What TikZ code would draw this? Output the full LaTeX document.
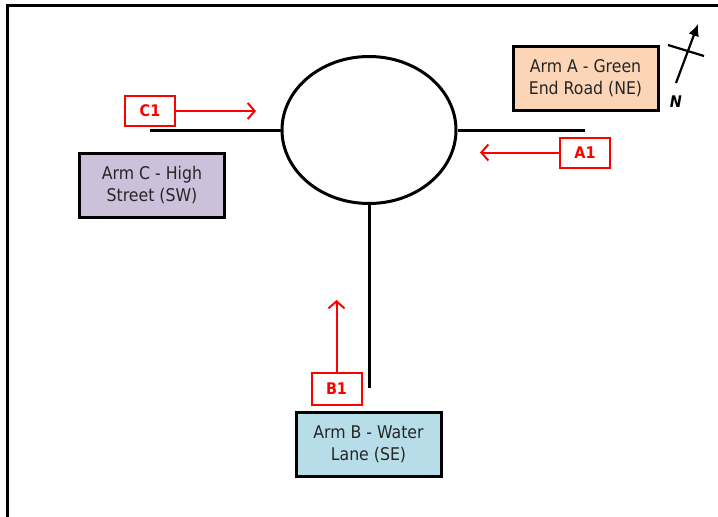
\documentclass[tikz,border=0pt]{standalone}
\usepackage{fontspec}
\setmainfont{DejaVu Sans Condensed}
\usetikzlibrary{arrows.meta,shapes.geometric}
\definecolor{peach}{HTML}{FBD5B5}
\definecolor{lav}{HTML}{CCC0DA}
\definecolor{lblue}{HTML}{B7DEE8}
\definecolor{tred}{HTML}{FF0000}
\begin{document}
\begin{tikzpicture}[x=1pt,y=-1pt,
  road/.style={line width=3pt},
  armbox/.style={draw, line width=3pt, minimum width=145pt, minimum height=64pt, inner sep=0pt, align=center, font=\fontsize{17.5}{22}\selectfont, text=black!85},
  lbl/.style={draw=tred, line width=2pt, text=tred, minimum width=50pt, minimum height=30pt, inner sep=0pt, font=\bfseries\fontsize{16}{18}\selectfont},
  flow/.style={draw=tred, line width=2pt, -{Straight Barb[length=7pt,width=16pt]}}]
\useasboundingbox (0,0) rectangle (718,517);
% frame
\draw[line width=3pt] (7,517) -- (7,5) -- (720,5);
% roundabout and roads
\node[draw, ellipse, line width=3pt, minimum width=174pt, minimum height=147pt, inner sep=0pt] (rb) at (369,130) {};
\coordinate (cw) at (150,130);
\coordinate (ae) at (585,130);
\coordinate (bs) at (369,388);
\draw[road] (cw) -- (rb.west);
\draw[road] (rb.east) -- (ae);
\draw[road] (rb.south) -- (bs);
% arm boxes
\node[armbox, fill=peach] (armA) at (585.5,78.5) {Arm A - Green\\End Road (NE)};
\node[armbox, fill=lav] (armC) at (152,185.5) {Arm C - High\\Street (SW)};
\node[armbox, fill=lblue] (armB) at (368.5,444) {Arm B - Water\\Lane (SE)};
% labels and flows
\node[lbl] (C1) at (150,111) {C1};
\coordinate (c1t) at (256,111);
\draw[flow] (C1.east) -- (c1t);
\node[lbl] (A1) at (585,152.5) {A1};
\coordinate (a1t) at (480,152.5);
\draw[flow] (A1.west) -- (a1t);
\node[lbl, minimum height=32pt] (B1) at (336.5,389) {B1};
\coordinate (b1t) at (336.5,300);
\draw[flow] (B1.north) -- (b1t);
% north arrow
\coordinate (ns) at (676,83);
\coordinate (ne) at (698,24);
\coordinate (x1) at (668,45);
\coordinate (x2) at (704,56);
\draw[line width=2.2pt, -{Latex[length=12pt,width=11pt]}] (ns) -- (ne);
\draw[line width=2.2pt] (x1) -- (x2);
\node[font=\bfseries\itshape\fontsize{16}{18}\selectfont] (N) at (676,102) {N};
\end{tikzpicture}
\end{document}
